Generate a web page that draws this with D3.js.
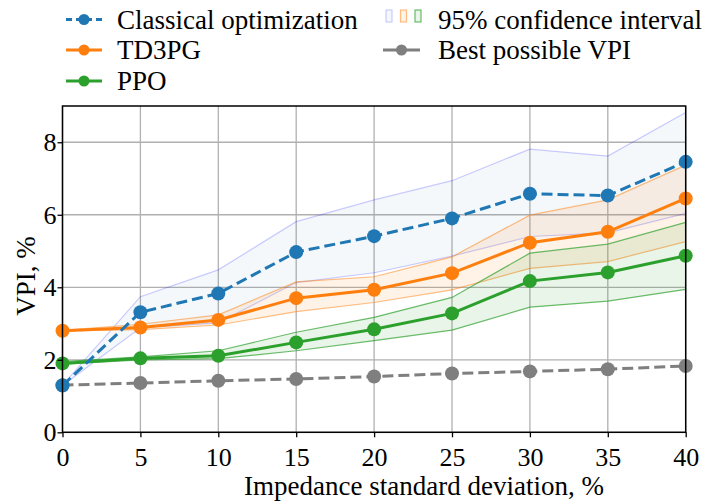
<!DOCTYPE html>
<html>
  <head>
    <meta charset="utf-8">
    <title>VPI vs impedance standard deviation</title>
    <script src="https://d3js.org/d3.v7.min.js"></script>
    <style>
      body { margin: 0; background: #ffffff; }
      svg { display: block; }
      text { font-family: "Liberation Serif", "Times New Roman", serif; fill: #000; }
    </style>
  </head>
  <body>
    <svg width="707" height="504"></svg>
    <script>
      // data
      var sigma = [0, 5, 10, 15, 20, 25, 30, 35, 40];
      var classical = [1.29, 3.31, 3.83, 4.97, 5.41, 5.90, 6.58, 6.53, 7.46];
      var classicalLo = [1.29, 2.88, 3.02, 4.13, 4.40, 4.86, 5.40, 5.50, 6.04];
      var classicalHi = [1.30, 3.74, 4.48, 5.81, 6.41, 6.94, 7.81, 7.62, 8.82];
      var td3pg = [2.80, 2.89, 3.10, 3.70, 3.93, 4.39, 5.23, 5.53, 6.45];
      var td3pgLo = [2.80, 2.83, 2.96, 3.33, 3.58, 3.93, 4.52, 4.71, 5.26];
      var td3pgHi = [2.81, 2.98, 3.24, 4.15, 4.29, 4.84, 5.99, 6.41, 7.37];
      var ppo = [1.90, 2.04, 2.11, 2.48, 2.84, 3.28, 4.17, 4.41, 4.87];
      var ppoLo = [1.88, 2.00, 2.03, 2.25, 2.53, 2.82, 3.45, 3.62, 3.94];
      var ppoHi = [1.95, 2.08, 2.25, 2.76, 3.17, 3.72, 4.94, 5.19, 5.79];
      var best = [1.30, 1.36, 1.42, 1.47, 1.54, 1.62, 1.68, 1.74, 1.83];
      var xTicks = [0, 5, 10, 15, 20, 25, 30, 35, 40];
      var yTicks = [0, 2, 4, 6, 8];

      (function() {
        var svg = d3.select("svg");
        var pLeft = 62.5, pRight = 685.7, pTop = 106, pBottom = 432.3;

        var x = d3.scaleLinear().domain([0, 40]).range([pLeft, pRight]);
        var y = d3.scaleLinear().domain([0, 9]).range([pBottom, pTop]);

        // grid
        svg.append("g").selectAll("line").data(xTicks).enter().append("line")
          .attr("x1", function(d) { return x(d); }).attr("x2", function(d) { return x(d); })
          .attr("y1", pTop).attr("y2", pBottom)
          .attr("stroke", "#b0b0b0").attr("stroke-width", 1.3);
        svg.append("g").selectAll("line").data(yTicks).enter().append("line")
          .attr("y1", function(d) { return y(d); }).attr("y2", function(d) { return y(d); })
          .attr("x1", pLeft).attr("x2", pRight)
          .attr("stroke", "#b0b0b0").attr("stroke-width", 1.3);

        // confidence bands
        var bands = [
          { lo: classicalLo, hi: classicalHi, fill: "rgba(31,119,180,0.05)", edge: "rgba(0,0,255,0.2)" },
          { lo: td3pgLo, hi: td3pgHi, fill: "rgba(255,127,14,0.1)", edge: "rgba(255,127,14,0.5)" },
          { lo: ppoLo, hi: ppoHi, fill: "rgba(44,160,44,0.1)", edge: "rgba(44,160,44,0.7)" }
        ];
        var area = d3.area()
          .x(function(d) { return x(d[0]); })
          .y0(function(d) { return y(d[1]); })
          .y1(function(d) { return y(d[2]); });
        var edgeLine = d3.line()
          .x(function(d) { return x(d[0]); })
          .y(function(d) { return y(d[1]); });
        bands.forEach(function(b) {
          var pts = sigma.map(function(s, i) { return [s, b.lo[i], b.hi[i]]; });
          svg.append("path").attr("d", area(pts)).attr("fill", b.fill).attr("stroke", "none");
          svg.append("path").attr("d", edgeLine(pts.map(function(p) { return [p[0], p[1]]; })))
            .attr("fill", "none").attr("stroke", b.edge).attr("stroke-width", 1.2);
          svg.append("path").attr("d", edgeLine(pts.map(function(p) { return [p[0], p[2]]; })))
            .attr("fill", "none").attr("stroke", b.edge).attr("stroke-width", 1.2);
        });

        // series
        var series = [
          { vals: best, color: "#7f7f7f", dash: "11,5" },
          { vals: ppo, color: "#2ca02c", dash: null },
          { vals: td3pg, color: "#ff7f0e", dash: null },
          { vals: classical, color: "#1f77b4", dash: "11,5" }
        ];
        var line = d3.line()
          .x(function(d, i) { return x(sigma[i]); })
          .y(function(d) { return y(d); });
        series.forEach(function(s) {
          svg.append("path").attr("d", line(s.vals))
            .attr("fill", "none").attr("stroke", s.color).attr("stroke-width", 3)
            .attr("stroke-dasharray", s.dash);
          svg.append("g").selectAll("circle").data(s.vals).enter().append("circle")
            .attr("cx", function(d, i) { return x(sigma[i]); })
            .attr("cy", function(d) { return y(d); })
            .attr("r", 7).attr("fill", s.color);
        });

        // frame and axes
        svg.append("rect").attr("x", pLeft).attr("y", pTop)
          .attr("width", pRight - pLeft).attr("height", pBottom - pTop)
          .attr("fill", "none").attr("stroke", "#000").attr("stroke-width", 1.5);

        var xAxis = svg.append("g").attr("transform", "translate(0," + pBottom + ")")
          .call(d3.axisBottom(x).tickValues(xTicks).tickSize(5).tickPadding(10));
        var yAxis = svg.append("g").attr("transform", "translate(" + pLeft + ",0)")
          .call(d3.axisLeft(y).tickValues(yTicks).tickSize(5).tickPadding(1));
        [xAxis, yAxis].forEach(function(a) {
          a.select(".domain").remove();
          a.selectAll(".tick line").attr("stroke", "#000").attr("stroke-width", 1.3);
          a.selectAll(".tick text").style("font-family", "Liberation Serif").style("font-size", "26px").attr("fill", "#000");
        });

        svg.append("text").attr("x", 424).attr("y", 495)
          .attr("text-anchor", "middle").style("font-size", "27px")
          .text("Impedance standard deviation, %");
        svg.append("text").attr("transform", "translate(35,276) rotate(-90)")
          .attr("text-anchor", "middle").style("font-size", "27px")
          .text("VPI, %");

        // legend
        var legendLeft = [
          { name: "Classical optimization", color: "#1f77b4", dash: "6,4", y: 19.5, base: 28.5 },
          { name: "TD3PG", color: "#ff7f0e", dash: null, y: 50, base: 58.5 },
          { name: "PPO", color: "#2ca02c", dash: null, y: 81, base: 90 }
        ];
        legendLeft.forEach(function(l) {
          svg.append("line").attr("x1", 66).attr("x2", 102).attr("y1", l.y).attr("y2", l.y)
            .attr("stroke", l.color).attr("stroke-width", 3).attr("stroke-dasharray", l.dash);
          svg.append("circle").attr("cx", 84).attr("cy", l.y).attr("r", 5.5).attr("fill", l.color);
          svg.append("text").attr("x", 117).attr("y", l.base).style("font-size", "27px").text(l.name);
        });
        bands.forEach(function(b, i) {
          svg.append("rect").attr("x", 386 + i * 14.5).attr("y", 10).attr("width", 6).attr("height", 12)
            .attr("fill", b.fill).attr("stroke", b.edge).attr("stroke-width", 1.2);
        });
        svg.append("text").attr("x", 438).attr("y", 28.5).style("font-size", "27px").text("95% confidence interval");
        svg.append("line").attr("x1", 383).attr("x2", 420).attr("y1", 50).attr("y2", 50)
          .attr("stroke", "#7f7f7f").attr("stroke-width", 3);
        svg.append("circle").attr("cx", 401.5).attr("cy", 50).attr("r", 5.5).attr("fill", "#7f7f7f");
        svg.append("text").attr("x", 438).attr("y", 58.5).style("font-size", "27px").text("Best possible VPI");
      })();
    </script>
  </body>
</html>
